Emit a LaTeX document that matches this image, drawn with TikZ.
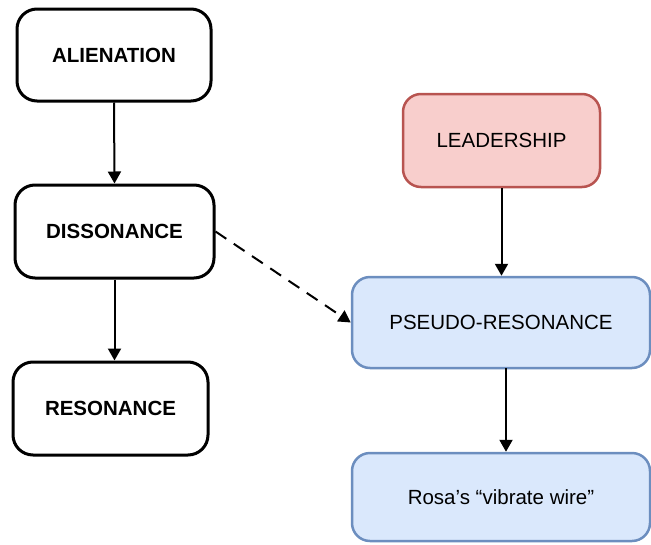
\documentclass[tikz,border=0pt]{standalone}
\usepackage{fontspec}
\setmainfont{Liberation Sans}
\usetikzlibrary{arrows.meta}
\begin{document}
\begin{tikzpicture}[x=1pt,y=-1pt,
  blackbox/.style={draw=black,line width=3pt,rounded corners=20pt,fill=white,
    minimum width=#1,inner sep=0pt,font=\fontsize{20.5}{24}\selectfont\bfseries},
  redbox/.style={draw={rgb,255:red,184;green,84;blue,80},line width=2.5pt,rounded corners=18pt,
    fill={rgb,255:red,248;green,206;blue,204},inner sep=0pt,font=\fontsize{20.5}{24}\selectfont},
  bluebox/.style={draw={rgb,255:red,108;green,142;blue,191},line width=2.5pt,rounded corners=18pt,
    fill={rgb,255:red,218;green,232;blue,252},inner sep=0pt,font=\fontsize{20.5}{24}\selectfont},
  conn/.style={line width=2pt,-{Triangle[length=12pt,width=13pt]}}
]
\useasboundingbox (0,0) rectangle (651,544);
\node[blackbox=194pt,minimum height=92pt] (ali) at (114,55) {ALIENATION};
\node[blackbox=199pt,minimum height=93pt] (dis) at (114.5,231.5) {DISSONANCE};
\node[blackbox=195pt,minimum height=93pt] (res) at (110.5,408.5) {RESONANCE};
\node[redbox,minimum width=197pt,minimum height=93pt] (lead) at (501.5,140.5) {LEADERSHIP};
\node[bluebox,minimum width=298pt,minimum height=91pt] (pseudo) at (501,322.5) {PSEUDO-RESONANCE};
\node[bluebox,minimum width=298pt,minimum height=88pt] (rosa) at (501,497) {Rosa’s “vibrate wire”};
\draw[conn] (ali.south) -- (dis.north);
\draw[conn] (dis.south) -- (dis.south |- res.north);
\draw[conn] (lead.south) -- (lead.south |- pseudo.north);
\coordinate (p1) at (506,368);
\draw[conn] (p1) -- (p1 |- rosa.north);
\draw[conn,dash pattern=on 13pt off 9pt] (dis.east) -- (pseudo.west);
\end{tikzpicture}
\end{document}
